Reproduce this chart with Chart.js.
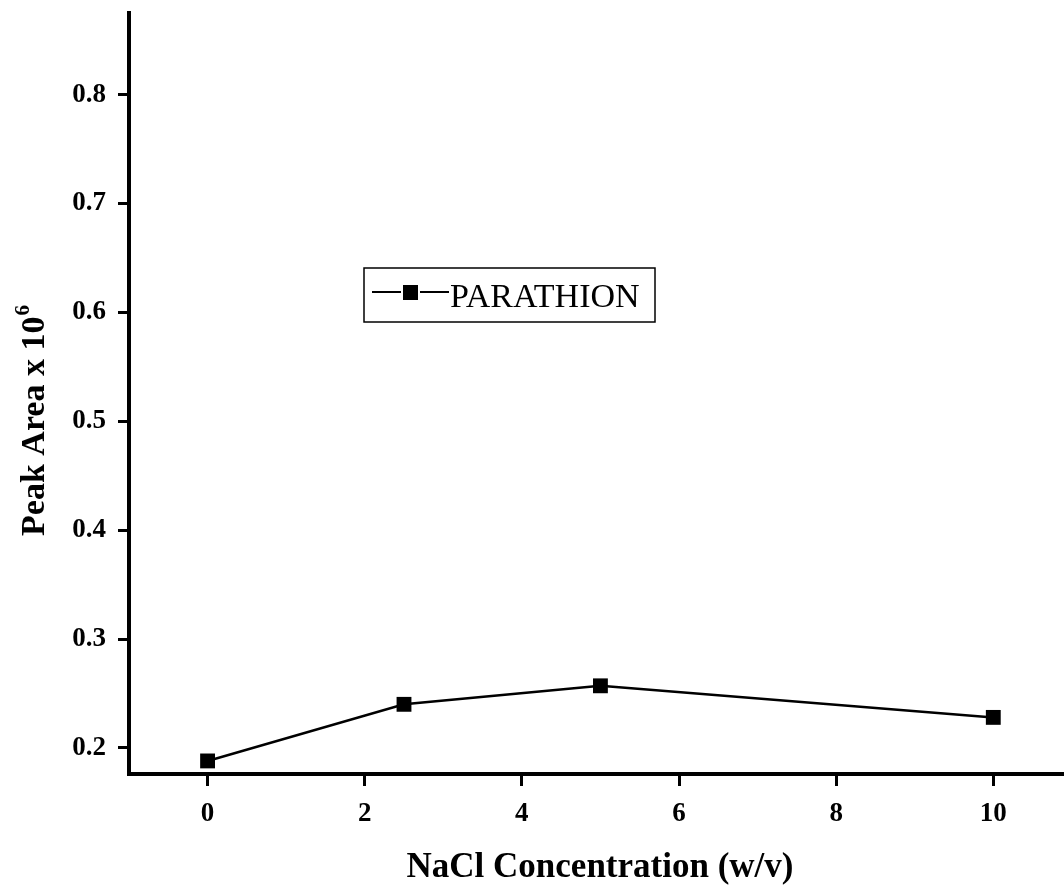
<!DOCTYPE html>
<html>
<head>
<meta charset="utf-8">
<script src="https://cdn.jsdelivr.net/npm/chart.js@4/dist/chart.umd.min.js"></script>
<style>
  html, body { margin: 0; padding: 0; background: #fff; }
</style>
</head>
<body>
<canvas id="chart" width="1064" height="886"></canvas>
<script>
const concentration = [0, 2.5, 5, 10];
const peakArea = [0.188, 0.240, 0.257, 0.228];
const xTicks = [0, 2, 4, 6, 8, 10];
const yTicks = [0.2, 0.3, 0.4, 0.5, 0.6, 0.7, 0.8];
const seriesName = 'PARATHION';
const xTitle = 'NaCl Concentration (w/v)';
const yTitle = 'Peak Area x 10';
const yTitleSup = '6';

const serif = '"Liberation Serif", "Times New Roman", serif';

// axis titles + boxed legend, drawn on the canvas after the chart
const extras = {
    id: 'extras',
    afterDraw(chart) {
        const ctx = chart.ctx;
        ctx.save();
        ctx.fillStyle = '#000';
        ctx.strokeStyle = '#000';

        // x title
        ctx.font = 'bold 35px ' + serif;
        ctx.textAlign = 'center';
        ctx.textBaseline = 'alphabetic';
        ctx.fillText(xTitle, 600, 877);

        // y title with superscript
        ctx.save();
        ctx.translate(44, 421);
        ctx.rotate(-Math.PI / 2);
        ctx.font = 'bold 34px ' + serif;
        const w1 = ctx.measureText(yTitle).width;
        ctx.font = 'bold 21px ' + serif;
        const w2 = ctx.measureText(yTitleSup).width;
        const x0 = -(w1 + w2) / 2;
        ctx.textAlign = 'left';
        ctx.font = 'bold 34px ' + serif;
        ctx.fillText(yTitle, x0, 0);
        ctx.font = 'bold 21px ' + serif;
        ctx.fillText(yTitleSup, x0 + w1 + 1, -15);
        ctx.restore();

        // legend box
        ctx.lineWidth = 1.5;
        ctx.strokeRect(364, 268, 291, 54);
        ctx.lineWidth = 2;
        ctx.beginPath();
        ctx.moveTo(372, 292); ctx.lineTo(401, 292);
        ctx.moveTo(420, 292); ctx.lineTo(449, 292);
        ctx.stroke();
        ctx.fillRect(403, 285, 15, 15);
        ctx.font = '34px ' + serif;
        ctx.textAlign = 'left';
        ctx.fillText(seriesName, 450, 307);
        ctx.restore();
    }
};

new Chart(document.getElementById('chart'), {
    type: 'line',
    data: {
        datasets: [{
            label: seriesName,
            data: concentration.map((c, i) => ({ x: c, y: peakArea[i] })),
            borderColor: '#000',
            backgroundColor: '#000',
            borderWidth: 2.5,
            pointStyle: 'rect',
            pointRadius: 10.5,
            pointBorderWidth: 0,
            tension: 0,
            fill: false
        }]
    },
    options: {
        responsive: false,
        animation: false,
        layout: { autoPadding: false, padding: { top: 13, right: 0, left: 0, bottom: 0 } },
        plugins: { legend: { display: false }, tooltip: { enabled: false } },
        scales: {
            x: {
                type: 'linear',
                min: -1, max: 10.9,
                afterBuildTicks: s => { s.ticks = xTicks.map(v => ({ value: v })); },
                afterFit: s => { s.height = 112; s.paddingLeft = 0; s.paddingRight = 0; },
                ticks: { color: '#000', padding: 12, font: { family: serif, size: 27, weight: 'bold' }, callback: v => String(v) },
                grid: { drawOnChartArea: false, drawTicks: true, tickLength: 12, tickWidth: 3, tickColor: '#000' },
                border: { display: true, color: '#000', width: 4 }
            },
            y: {
                type: 'linear',
                min: 0.176, max: 0.875,
                afterBuildTicks: s => { s.ticks = yTicks.map(v => ({ value: v })); },
                afterFit: s => { s.width = 129; s.paddingTop = 0; s.paddingBottom = 0; },
                ticks: { color: '#000', padding: 12, font: { family: serif, size: 27, weight: 'bold' }, callback: v => v.toFixed(1) },
                grid: { drawOnChartArea: false, drawTicks: true, tickLength: 11, tickWidth: 3, tickColor: '#000' },
                border: { display: true, color: '#000', width: 4 }
            }
        }
    },
    plugins: [extras]
});
</script>
</body>
</html>
